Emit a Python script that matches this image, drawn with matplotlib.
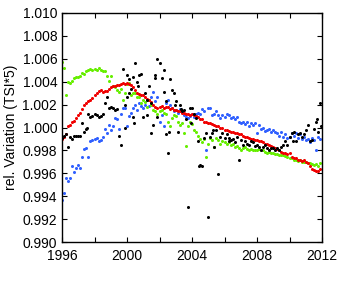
import numpy as np
import matplotlib
matplotlib.use('Agg')
import matplotlib.pyplot as plt

plt.rcParams['font.family'] = ['Liberation Sans', 'DejaVu Sans']

# one value every 1/8 year, 1996.0 .. 2011.875 (one row per year)
red = [
    0.9990, 0.9992, 0.9994, 1.0001, 1.0002, 1.0005, 1.0006, 1.0008,
    1.0011, 1.0013, 1.0016, 1.0020, 1.0021, 1.0023, 1.0024, 1.0026,
    1.0028, 1.0030, 1.0032, 1.0033, 1.0031, 1.0032, 1.0032, 1.0034,
    1.0035, 1.0036, 1.0036, 1.0037, 1.0037, 1.0038, 1.0039, 1.0038,
    1.0039, 1.0038, 1.0037, 1.0035, 1.0033, 1.0030, 1.0029, 1.0028,
    1.0028, 1.0027, 1.0025, 1.0024, 1.0022, 1.0020, 1.0018, 1.0017,
    1.0018, 1.0019, 1.0017, 1.0018, 1.0018, 1.0016, 1.0017, 1.0015,
    1.0015, 1.0014, 1.0014, 1.0013, 1.0013, 1.0012, 1.0012, 1.0011,
    1.0012, 1.0011, 1.0010, 1.0009, 1.0007, 1.0007, 1.0005, 1.0005,
    1.0004, 1.0004, 1.0003, 1.0002, 1.0001, 1.0001, 1.0000, 1.0000,
    0.9998, 0.9998, 0.9997, 0.9996, 0.9996, 0.9995, 0.9995, 0.9994,
    0.9994, 0.9993, 0.9992, 0.9992, 0.9991, 0.9990, 0.9990, 0.9989,
    0.9989, 0.9988, 0.9988, 0.9987, 0.9986, 0.9986, 0.9985, 0.9984,
    0.9983, 0.9982, 0.9981, 0.9980, 0.9979, 0.9978, 0.9978, 0.9977,
    0.9978, 0.9974, 0.9973, 0.9973, 0.9972, 0.9972, 0.9971, 0.9972,
    0.9970, 0.9969, 0.9966, 0.9964, 0.9963, 0.9962, 0.9962, 0.9964,
]

green = [
    1.0057, 1.0052, 1.0028, 1.0040, 1.0039, 1.0041, 1.0043, 1.0044,
    1.0044, 1.0045, 1.0048, 1.0047, 1.0049, 1.0050, 1.0051, 1.0050,
    1.0051, 1.0050, 1.0052, 1.0050, 1.0049, 1.0049, 1.0045, 1.0041,
    1.0045, 1.0036, 1.0035, 1.0033, 1.0031, 1.0034, 1.0024, 1.0030,
    1.0038, 1.0039, 1.0028, 1.0030, 1.0030, 1.0027, 1.0027, 1.0021,
    1.0024, 1.0022, 1.0018, 1.0024, 1.0020, 1.0015, 1.0014, 1.0012,
    1.0014, 1.0015, 1.0013, 1.0012, 1.0005, 1.0001, 1.0008, 1.0011,
    1.0010, 1.0005, 1.0002, 1.0004, 0.9995, 0.9984, 1.0001, 1.0005,
    1.0003, 0.9998, 0.9996, 0.9993, 0.9990, 0.9987, 0.9990, 0.9974,
    0.9986, 0.9991, 0.9989, 0.9983, 0.9991, 0.9989, 0.9986, 0.9988,
    0.9987, 0.9986, 0.9987, 0.9985, 0.9986, 0.9983, 0.9984, 0.9982,
    0.9980, 0.9982, 0.9983, 0.9981, 0.9980, 0.9981, 0.9980, 0.9980,
    0.9980, 0.9981, 0.9980, 0.9980, 0.9979, 0.9978, 0.9979, 0.9978,
    0.9978, 0.9977, 0.9977, 0.9976, 0.9976, 0.9976, 0.9975, 0.9974,
    0.9973, 0.9973, 0.9972, 0.9972, 0.9971, 0.9972, 0.9970, 0.9970,
    0.9970, 0.9969, 0.9969, 0.9968, 0.9967, 0.9968, 0.9966, 0.9969,
]

blue = [
    0.9937, 0.9943, 0.9956, 0.9953, 0.9956, 0.9966, 0.9961, 0.9965,
    0.9967, 0.9965, 0.9974, 0.9981, 0.9982, 0.9974, 0.9988, 0.9989,
    0.9990, 0.9991, 0.9988, 0.9989, 0.9992, 0.9999, 0.9995, 1.0002,
    0.9998, 1.0001, 1.0008, 1.0007, 0.9999, 1.0012, 1.0017, 1.0017,
    1.0001, 1.0010, 1.0013, 1.0017, 1.0020, 1.0015, 1.0021, 1.0019,
    1.0017, 1.0020, 1.0024, 1.0019, 1.0027, 1.0031, 1.0023, 1.0027,
    1.0005, 1.0011, 1.0001, 1.0021, 1.0024, 1.0020, 1.0017, 1.0014,
    1.0015, 1.0013, 1.0016, 1.0014, 1.0011, 1.0009, 1.0008, 1.0010,
    1.0012, 1.0009, 1.0012, 1.0013, 1.0012, 1.0016, 1.0014, 0.9980,
    1.0017, 1.0017, 1.0011, 1.0012, 1.0014, 1.0011, 1.0008, 1.0011,
    1.0009, 1.0012, 1.0011, 1.0008, 1.0009, 1.0007, 1.0009, 1.0005,
    1.0004, 1.0005, 1.0003, 1.0005, 1.0001, 1.0004, 1.0002, 1.0004,
    0.9995, 1.0002, 0.9999, 1.0000, 0.9997, 0.9998, 0.9999, 0.9996,
    0.9998, 0.9996, 0.9995, 0.9993, 0.9996, 0.9992, 0.9994, 0.9991,
    0.9992, 0.9995, 0.9993, 0.9995, 0.9991, 0.9994, 0.9990, 0.9992,
    0.9989, 0.9990, 0.9987, 0.9991, 0.9989, 0.9980, 0.9992, 0.9990,
]

black = [
    0.9991, 0.9993, 0.9994, 0.9983, 0.9992, 0.9990, 0.9993, 0.9993,
    0.9993, 0.9993, 1.0004, 0.9996, 0.9999, 1.0012, 1.0009, 1.0010,
    1.0012, 1.0011, 1.0009, 1.0010, 1.0012, 1.0021, 1.0027, 1.0017,
    1.0018, 1.0017, 1.0015, 1.0016, 0.9993, 0.9985, 1.0051, 1.0000,
    1.0027, 1.0042, 1.0034, 1.0044, 1.0056, 1.0040, 1.0046, 1.0047,
    1.0009, 1.0030, 1.0024, 1.0036, 0.9995, 1.0002, 1.0046, 1.0060,
    1.0056, 1.0043, 1.0050, 0.9994, 0.9978, 1.0042, 1.0033, 1.0030,
    1.0023, 0.9996, 1.0020, 1.0014, 1.0015, 1.0007, 0.9931, 1.0017,
    1.0017, 1.0012, 1.0008, 0.9988, 0.9967, 0.9966, 0.9991, 0.9995,
    0.9922, 0.9992, 0.9995, 0.9983, 0.9998, 0.9959, 0.9992, 0.9995,
    0.9991, 0.9994, 0.9988, 0.9989, 0.9990, 0.9987, 0.9992, 0.9972,
    0.9989, 0.9985, 0.9988, 0.9986, 0.9985, 0.9988, 0.9987, 0.9984,
    0.9985, 0.9983, 0.9980, 0.9983, 0.9985, 0.9982, 0.9980, 0.9982,
    0.9982, 0.9980, 0.9982, 0.9980, 0.9983, 0.9985, 0.9988, 0.9985,
    0.9992, 0.9995, 0.9996, 0.9988, 0.9994, 0.9995, 0.9992, 0.9994,
    0.9998, 1.0002, 0.9988, 0.9989, 0.9999, 1.0005, 0.9996, 1.0021,
]

# black points that fall between the regular samples
black_extra_t = [1997.55, 1999.9, 2000.0, 2000.1, 2000.35, 2000.4, 2000.7,
                 2001.2, 2001.5, 2001.75, 2001.85, 2002.3, 2002.4, 2002.6,
                 2002.95, 2003.3, 2003.95, 2004.45, 2005.3, 2006.3, 2010.2,
                 2011.7, 2011.95]
black_extra_v = [1.0000, 1.0020, 1.0046, 1.0030, 1.0009, 1.0004, 1.0036,
                 1.0011, 1.0021, 1.0043, 1.0009, 1.0031, 1.0023, 0.9996,
                 1.0020, 1.0016, 1.0004, 0.9966, 0.9998, 0.9991, 0.9988,
                 1.0007, 1.0001]

xticks = [1996, 1998, 2000, 2002, 2004, 2006, 2008, 2010, 2012]
xlabels = ['1996', '', '2000', '', '2004', '', '2008', '', '2012']
yticks = [0.990, 0.992, 0.994, 0.996, 0.998, 1.000, 1.002, 1.004, 1.006, 1.008, 1.010]

t = 1996 + np.arange(len(red)) / 8.0

fig = plt.figure(figsize=(3.42, 2.85), dpi=100)
ax = fig.add_axes([62 / 342, 43 / 285, 260 / 342, 229 / 285])

ms = 2.2
ax.plot(t, blue, 'o', color='#3060ff', ms=ms, mew=0)
ax.plot(t, green, 'o', color='#66ee00', ms=ms, mew=0)
ax.plot(t, red, 'o', color='#f00000', ms=ms, mew=0)
ax.plot(t, black, 'o', color='black', ms=ms, mew=0)
ax.plot(black_extra_t, black_extra_v, 'o', color='black', ms=ms, mew=0)

ax.set_xlim(1996, 2012)
ax.set_ylim(0.990, 1.010)
ax.set_xticks(xticks)
ax.set_xticklabels(xlabels)
ax.set_yticks(yticks)
ax.set_yticklabels(['%.3f' % v for v in yticks])
ax.tick_params(direction='in', top=True, right=True, length=3.5, width=0.8,
               labelsize=10)
ax.tick_params(axis='x', pad=5)
ax.tick_params(axis='y', pad=3.5)
for s in ax.spines.values():
    s.set_linewidth(1.0)
ax.set_ylabel('rel. Variation (TSI*5)', fontsize=10, labelpad=3)

fig.savefig('out.png', dpi=100)
